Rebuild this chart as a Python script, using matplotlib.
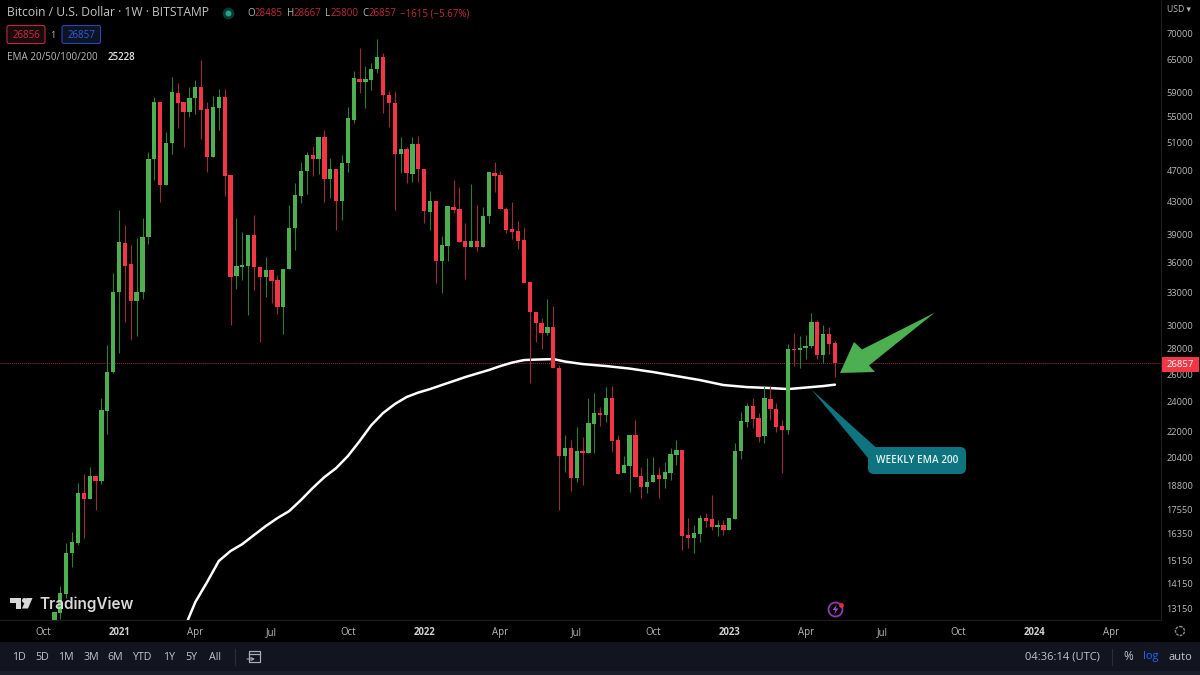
"""BTC weekly chart with the 200 week EMA, TradingView look"""

import numpy as np
import pandas as pd
import matplotlib
matplotlib.use("Agg")
import matplotlib.pyplot as plt
import matplotlib.dates as mdates
import matplotlib.patches as mpatches

plt.rcParams["font.family"] = ["Open Sans", "DejaVu Sans"]

FIRST_WEEK = "2020-10-19"

opens = [
    12730, 12990, 13730, 15460, 15920, 18410, 18090, 19340, 19060, 23370,
    26170, 33000, 38070, 35820, 32170, 33020, 38740, 48600, 57360, 45070,
    50920, 58880, 57360, 55720, 58030, 59920, 56200, 48890, 56370, 58200,
    46400, 34590, 35510, 35610, 38970, 35510, 34490, 35200, 34190, 31610,
    35300, 39770, 43650, 46940, 49170, 48600, 51810, 45850, 47210, 43020,
    48040, 54430, 61320, 60790, 61150, 63130, 65380, 58540, 57200, 49320,
    50030, 46530, 50770, 47210, 41660, 43020, 36130, 37740, 42270, 42020,
    38300, 37630, 38300, 37630, 41180, 46670, 46400, 42020, 39650, 39420,
    38400, 33990, 31160, 30180, 29310, 29830, 26470, 20500, 20980, 19230,
    20800, 20680, 22500, 23230, 23100, 24260, 21480, 19510, 19910, 21790,
    19340, 18730, 19010, 19400, 19170, 19510, 20560, 20860, 16300, 16150,
    16340, 17120, 17070, 16680, 16780, 16530, 17070, 20800, 22630, 23710,
    22890, 21730, 24190, 23500, 22370, 22110, 27980, 27900, 28060, 28220,
    30260, 27500, 29230, 28485,
]
highs = [
    13030, 14050, 15920, 16440, 18950, 19460, 19850, 19340, 24260, 28300,
    34900, 41900, 40120, 37850, 38630, 40940, 49600, 58200, 57360, 52570,
    61680, 60620, 57360, 59920, 61150, 64810, 57360, 58370, 59560, 59560,
    46400, 40940, 39310, 38970, 41300, 35510, 36560, 35200, 34690, 35300,
    42520, 45330, 48180, 49600, 50480, 51810, 52870, 48740, 47210, 49170,
    56530, 62770, 67110, 63690, 64250, 68880, 66140, 59220, 59220, 51810,
    50330, 51810, 51960, 47210, 44290, 43020, 38860, 42400, 45720, 44800,
    40350, 45200, 42520, 42270, 46800, 48180, 46940, 42270, 42890, 40590,
    39890, 33990, 31160, 30620, 32350, 31700, 26710, 21790, 21480, 22300,
    21660, 24260, 24620, 23640, 25050, 25130, 21790, 20500, 21790, 22760,
    19850, 20380, 20440, 19850, 20150, 20980, 21480, 20860, 17120, 16780,
    17270, 17370, 18300, 17020, 17020, 17120, 21290, 23300, 23920, 24260,
    23230, 25130, 25130, 23920, 22760, 28390, 29310, 29060, 29140, 31070,
    30440, 30000, 29830, 28667,
]
lows = [
    12730, 12760, 13570, 14850, 15830, 16150, 18090, 17520, 18900, 21850,
    26100, 27650, 30260, 28720, 29060, 32350, 37960, 45720, 42890, 45070,
    49320, 53180, 50330, 54910, 55400, 51510, 46800, 48890, 52870, 43650,
    30000, 33310, 34190, 30890, 33210, 28550, 32540, 31980, 30980, 29230,
    35300, 37310, 42770, 43900, 46260, 46530, 42890, 43390, 39540, 40700,
    46800, 53970, 58880, 56370, 59390, 62410, 55560, 53340, 41900, 46670,
    45330, 45460, 45460, 40350, 39540, 33900, 32920, 36130, 41540, 38180,
    34290, 37630, 37200, 37630, 40350, 44160, 42020, 39200, 38520, 37410,
    33900, 25350, 28550, 27980, 29140, 26470, 17520, 19570, 18520, 19010,
    18840, 20680, 20680, 22370, 22630, 20740, 19460, 19510, 18460, 19290,
    18140, 18410, 19010, 18140, 18680, 19120, 19970, 15600, 15690, 15460,
    15970, 16680, 16530, 16250, 16300, 16530, 17070, 20320, 22300, 22240,
    21350, 21290, 22760, 21980, 19510, 21850, 26630, 26470, 27180, 28060,
    27180, 26860, 27580, 25800,
]
closes = [
    13030, 13770, 15460, 15970, 18410, 18090, 19340, 19060, 23430, 26170,
    33020, 38180, 35610, 32170, 33020, 38740, 48600, 57360, 45070, 50920,
    59050, 57200, 55720, 58030, 59920, 56040, 48890, 56530, 58200, 46260,
    34490, 35610, 35720, 38970, 35510, 34490, 35200, 34090, 31610, 35300,
    39770, 43780, 46940, 49170, 48600, 51810, 45850, 47210, 43020, 48040,
    54750, 61500, 60790, 61320, 63130, 65380, 58540, 57200, 49320, 50030,
    46670, 50770, 47210, 41780, 43020, 36130, 37850, 42400, 41900, 38180,
    37630, 38300, 37630, 41180, 46800, 46260, 42020, 39540, 39310, 38300,
    33900, 31160, 30180, 29310, 29830, 26470, 20500, 20980, 19230, 20800,
    20680, 22560, 23230, 23100, 24260, 21410, 19460, 19970, 21790, 19290,
    18730, 19010, 19400, 19170, 19570, 20620, 20860, 16250, 16150, 16390,
    17120, 16970, 16680, 16780, 16530, 17120, 20800, 22700, 23710, 22830,
    21660, 24260, 23500, 22300, 22110, 27980, 27900, 28060, 28220, 30260,
    27500, 29230, 28390, 26857,
]

# EMA 200, read every few weeks (week number counted from FIRST_WEEK)
ema_weeks = [
    22, 24, 26, 28, 30, 32, 34, 36, 38, 40, 42, 44, 46, 48, 50, 52, 54, 56,
    58, 60, 62, 64, 66, 68, 70, 72, 74, 76, 78, 80, 82, 85, 87, 90, 94, 98,
    102, 106, 110, 114, 118, 122, 125, 128, 131, 133,
]
ema_values = [
    12360, 13410, 14210, 15110, 15555, 15870, 16295, 16725, 17120, 17470,
    18040, 18680, 19285, 19795, 20500, 21410, 22430, 23230, 23845, 24335,
    24655, 24905, 25200, 25490, 25790, 26055, 26320, 26630, 26900, 27095,
    27135, 27175, 26980, 26785, 26630, 26435, 26170, 25865, 25565, 25200,
    25050, 24980, 24905, 25015, 25125, 25228,
]

price_ticks = [
    70000, 65000, 59000, 55000, 51000, 47000, 43000, 39000, 36000, 33000, 30000,
    28000, 26000, 24000, 22000, 20400, 18800, 17550, 16350, 15150, 14150, 13150,
]
time_ticks = [
    "2020-10-05", "2021-01-04", "2021-04-05", "2021-07-05", "2021-10-04",
    "2022-01-03", "2022-04-04", "2022-07-04", "2022-10-03", "2023-01-02",
    "2023-04-03", "2023-07-03", "2023-10-02", "2024-01-01", "2024-04-01",
]
time_labels = [
    "Oct", "2021", "Apr", "Jul", "Oct", "2022", "Apr", "Jul", "Oct", "2023",
    "Apr", "Jul", "Oct", "2024", "Apr",
]
range_buttons = ["1D", "5D", "1M", "3M", "6M", "YTD", "1Y", "5Y", "All"]
range_button_x = [19, 42, 66, 91, 115, 142, 169, 191, 215]

LAST_PRICE = 26857
GREEN = "#4caf50"
RED = "#f23645"
GREEN_WICK = "#2e7d36"
RED_WICK = "#9c2b3a"
TEXT = "#b8b8b8"

fig = plt.figure(figsize=(12, 6.75), dpi=100, facecolor="black")
ax = fig.add_axes([0, 55 / 675, 1161 / 1200, 620 / 675], facecolor="black")

weeks = pd.date_range(FIRST_WEEK, periods=len(opens), freq="7D")
x = mdates.date2num(weeks)
o, h, l, c = map(np.array, (opens, highs, lows, closes))
up = c >= o

ax.axhline(LAST_PRICE, color="#a02c3a", lw=0.7, ls=(0, (1, 1)), zorder=1)
ax.plot(x[ema_weeks], ema_values, color="white", lw=1.8, zorder=2,
        solid_capstyle="round", solid_joinstyle="round")
ax.vlines(x[up], l[up], h[up], color=GREEN_WICK, lw=0.8, zorder=3)
ax.vlines(x[~up], l[~up], h[~up], color=RED_WICK, lw=0.8, zorder=3)
ax.bar(x[up], (c - o)[up], bottom=o[up], width=5.1, color=GREEN, zorder=4)
ax.bar(x[~up], (o - c)[~up], bottom=c[~up], width=5.1, color=RED, zorder=4)

ax.set_yscale("log")
ax.set_ylim(12730, 77160)
ax.set_xlim(mdates.date2num(pd.Timestamp("2020-08-15")),
            mdates.date2num(pd.Timestamp("2024-05-31")))
ax.yaxis.tick_right()
ax.set_yticks(price_ticks)
ax.set_yticklabels([str(p) for p in price_ticks])
ax.minorticks_off()
ax.tick_params(axis="y", length=0, pad=4, labelsize=6.7, labelcolor=TEXT)
ax.set_xticks(mdates.date2num(pd.to_datetime(time_ticks)))
ax.set_xticklabels(time_labels)
ax.tick_params(axis="x", length=0, pad=5, labelsize=6.9, labelcolor=TEXT)
for lab in ax.get_xticklabels():
    if lab.get_text().isdigit():
        lab.set_fontweight("bold")
        lab.set_color("#d0d0d0")
for side in ("top", "left"):
    ax.spines[side].set_visible(False)
ax.spines["bottom"].set_color("#1d1d1d")
ax.spines["right"].set_color("#1d1d1d")

# everything else sits on a pixel overlay
ov = fig.add_axes([0, 0, 1, 1], facecolor="none")
ov.set_xlim(0, 1200)
ov.set_ylim(675, 0)
ov.axis("off")

# annotations
ov.add_patch(mpatches.Polygon(
    [(840, 373), (854, 342), (862, 349.5), (935, 312.5), (869, 365.5), (875, 372)],
    closed=True, color=GREEN, lw=0, zorder=5))
ov.add_patch(mpatches.Polygon(
    [(811.5, 389.5), (876, 447.5), (868, 458)],
    closed=True, color="#0d7480", lw=0, zorder=5))
ov.add_patch(mpatches.FancyBboxPatch(
    (874, 453), 86, 15, boxstyle="round,pad=6,rounding_size=6",
    color="#0d7480", lw=0, zorder=5))
ov.text(917.5, 460.5, "WEEKLY EMA 200", color="#e4f2f2", fontsize=7.2,
        fontweight="semibold", ha="center", va="center", zorder=6)

# last price tag
ov.add_patch(mpatches.Rectangle((1162, 357), 37, 15, color=RED, lw=0))
ov.text(1180.5, 364.5, "26857", color="white", fontsize=6.8, ha="center", va="center")
ov.text(1179, 10, "USD ▾", color=TEXT, fontsize=6.2, ha="center", va="center")

# legend lines top left
ov.text(7, 13, "Bitcoin / U.S. Dollar · 1W · BITSTAMP", color="#c4c4c4",
        fontsize=8.7, va="center")
ov.scatter([228], [13], s=70, color="#0c3a33", lw=0)
ov.scatter([228], [13], s=18, color="#1fa58a", lw=0)
for tx, txt, col in [
    (247.5, "O", TEXT), (255, "28485", "#c22a3a"), (286.5, "H", TEXT),
    (294, "28667", "#c22a3a"), (325.5, "L", TEXT), (331, "25800", "#c22a3a"),
    (362.5, "C", TEXT), (368.5, "26857", "#c22a3a"),
    (400, "−1615 (−5.67%)", "#c22a3a"),
]:
    ov.text(tx, 14, txt, color=col, fontsize=7, va="center")
ov.add_patch(mpatches.FancyBboxPatch(
    (7, 25.5), 38, 18, boxstyle="round,pad=0,rounding_size=2",
    fc="#1a0a0e", ec="#b82a3c", lw=0.8))
ov.add_patch(mpatches.FancyBboxPatch(
    (62, 25.5), 38.5, 18, boxstyle="round,pad=0,rounding_size=2",
    fc="#0d1426", ec="#2648b0", lw=0.8))
ov.text(26, 35, "26856", color="#d12c40", fontsize=7, ha="center", va="center")
ov.text(53, 35, "1", color=TEXT, fontsize=6.5, ha="center", va="center")
ov.text(81, 35, "26857", color="#2c5fe0", fontsize=7, ha="center", va="center")
ov.text(7, 57, "EMA 20/50/100/200", color=TEXT, fontsize=7.1, va="center")
ov.text(108, 57, "25228", color="#e0e0e0", fontsize=7.1, va="center",
        fontweight="semibold")

# TradingView logo
ov.add_patch(mpatches.Polygon([(9.5, 598), (21, 598), (21, 608.5), (15.5, 608.5),
                               (15.5, 603), (9.5, 603)], closed=True, color="#d8d8d8", lw=0))
ov.scatter([23.5], [600.3], s=13, color="#d8d8d8", lw=0)
ov.add_patch(mpatches.Polygon([(26.5, 598), (32.5, 598), (28, 608.5), (22, 608.5)],
                              closed=True, color="#d8d8d8", lw=0))
ov.text(39, 604, "TradingView", color="#d8d8d8", fontsize=11, fontweight="semibold",
        family=["Inter", "DejaVu Sans"], va="center")

# lightning badge
ov.add_patch(mpatches.Circle((835.5, 609.5), 7, fc="none", ec="#8e3bb0", lw=1.3))
ov.add_patch(mpatches.Polygon([(837, 604.5), (832.5, 610), (835.5, 610), (834, 614.5),
                               (838.5, 608.5), (835.5, 608.5)], closed=True,
                              color="#a84fd0", lw=0))
ov.scatter([840.5], [604.5], s=12, color="#e0303a", lw=0)

# gear next to the time axis
ov.add_patch(mpatches.Circle((1180, 631), 4.5, fc="none", ec="#8a8a8a", lw=1.0, ls=(0, (2, 0.8))))

# bottom toolbar
ov.add_patch(mpatches.Rectangle((0, 642), 1200, 29, color="#12151f", lw=0))
ov.add_patch(mpatches.Rectangle((0, 671), 1200, 4, color="#1b1f2b", lw=0))
for bx, name in zip(range_button_x, range_buttons):
    ov.text(bx, 657, name, color="#c0c4cc", fontsize=7.7, ha="center", va="center")
ov.plot([235, 235], [649, 665], color="#2a2e39", lw=0.8)
ov.add_patch(mpatches.Rectangle((249, 651), 11, 11, fc="none", ec="#a8acb4", lw=0.9))
ov.plot([249, 260], [654, 654], color="#a8acb4", lw=0.9)
ov.annotate("", xy=(255, 659), xytext=(247, 659),
            arrowprops=dict(arrowstyle="->", color="#a8acb4", lw=0.8, shrinkA=0, shrinkB=0,
                            mutation_scale=5))
ov.text(1062, 657, "04:36:14 (UTC)", color="#c0c4cc", fontsize=8, ha="center", va="center")
ov.plot([1112, 1112], [649, 665], color="#2a2e39", lw=0.8)
ov.text(1128, 657, "%", color="#c0c4cc", fontsize=8.5, ha="center", va="center")
ov.text(1151, 657, "log", color="#2962ff", fontsize=8, ha="center", va="center")
ov.text(1180, 657, "auto", color="#c0c4cc", fontsize=8, ha="center", va="center")

fig.savefig("out.png", dpi=100, facecolor="black")
